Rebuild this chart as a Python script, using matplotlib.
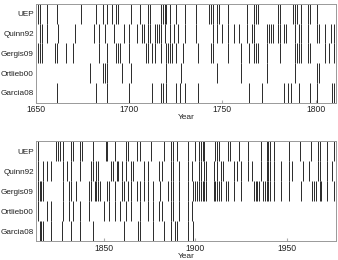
import matplotlib
matplotlib.use("Agg")
import matplotlib.pyplot as plt

plt.rcParams['font.family'] = ['Liberation Sans', 'DejaVu Sans']

series_names = ["UEP", "Quinn92", "Gergis09", "Ortlieb00", "Garcia08"]

# Top panel (1650-1811)
uep_a = [1651, 1652, 1656, 1661, 1674, 1682, 1686, 1688, 1691, 1693, 1694, 1701, 1706, 1710,
         1711, 1717, 1718, 1719, 1720, 1722, 1725, 1730, 1736, 1743, 1744, 1745, 1747, 1748,
         1753, 1763, 1767, 1768, 1769, 1780, 1781, 1788, 1789, 1790, 1792, 1796, 1797, 1801]
quinn_a = [1652, 1653, 1656, 1662, 1671, 1681, 1684, 1687, 1692, 1697, 1700, 1704, 1707, 1708,
           1710, 1711, 1714, 1715, 1716, 1717, 1719, 1722, 1724, 1726, 1730, 1736, 1745, 1747,
           1750, 1753, 1756, 1759, 1763, 1766, 1767, 1774, 1775, 1776, 1777, 1780, 1781, 1783,
           1784, 1789, 1791, 1792, 1796, 1801, 1802, 1805, 1808, 1810]
gergis_a = [1651, 1652, 1653, 1660, 1661, 1666, 1670, 1684, 1688, 1693, 1694, 1695, 1700, 1709,
            1710, 1712, 1714, 1717, 1720, 1721, 1722, 1723, 1725, 1729, 1737, 1744, 1745, 1753,
            1760, 1764, 1767, 1768, 1769, 1774, 1781, 1789, 1790, 1791, 1792, 1796, 1797, 1805,
            1807, 1810]
ortlieb_a = [1679, 1686, 1687, 1688, 1696, 1701, 1720, 1728, 1747, 1760, 1774, 1789, 1801, 1802]
garcia_a = [1661, 1682, 1688, 1700, 1712, 1717, 1718, 1720, 1725, 1727, 1730, 1737, 1764, 1771,
            1783, 1785, 1787, 1791, 1797, 1801, 1809, 1810]

# Bottom panel (1813-1977)
uep_b = [1814, 1824, 1825, 1826, 1828, 1832, 1833, 1837, 1838, 1844, 1851, 1852, 1856, 1862,
         1863, 1868, 1870, 1876, 1883, 1887, 1888, 1890, 1896, 1900, 1902, 1903, 1904, 1905,
         1911, 1912, 1913, 1918, 1919, 1924, 1929, 1936, 1939, 1940, 1941, 1943, 1951, 1957,
         1963, 1967, 1968, 1972, 1976]
quinn_b = [1814, 1817, 1819, 1821, 1828, 1830, 1832, 1837, 1843, 1844, 1846, 1847, 1854, 1855,
           1857, 1858, 1860, 1862, 1865, 1866, 1872, 1874, 1880, 1882, 1887, 1888, 1891, 1896,
           1898, 1902, 1903, 1905, 1906, 1910, 1912, 1914, 1915, 1921, 1923, 1925, 1929, 1931,
           1936, 1939, 1940, 1941, 1943, 1947, 1951, 1953, 1959, 1962, 1967, 1968, 1972, 1975]
gergis_b = [1814, 1815, 1816, 1817, 1828, 1831, 1832, 1835, 1842, 1843, 1845, 1846, 1847, 1848,
            1852, 1853, 1856, 1860, 1861, 1863, 1865, 1868, 1870, 1872, 1874, 1877, 1881, 1885,
            1887, 1888, 1891, 1896, 1899, 1900, 1901, 1902, 1903, 1904, 1905, 1906, 1910, 1911,
            1912, 1913, 1914, 1917, 1918, 1921, 1925, 1932, 1933, 1934, 1935, 1937, 1938, 1939,
            1940, 1941, 1943, 1947, 1951, 1958, 1964, 1965, 1966, 1968, 1969, 1972, 1976]
ortlieb_b = [1814, 1819, 1821, 1828, 1831, 1833, 1837, 1842, 1850, 1853, 1856, 1859, 1862, 1865,
             1870, 1874, 1877, 1880, 1882, 1887, 1888, 1891, 1896, 1898]
garcia_b = [1815, 1816, 1817, 1821, 1827, 1832, 1837, 1844, 1861, 1869, 1870, 1877, 1883, 1887,
            1889, 1890, 1896, 1899]

top_ticks = [1650, 1700, 1750, 1800]
bottom_ticks = [1850, 1900, 1950]

fig = plt.figure(figsize=(3.38, 2.60), dpi=100)
ax1 = fig.add_axes([0.1065, 0.605, 0.888, 0.380])
ax2 = fig.add_axes([0.1065, 0.072, 0.888, 0.385])

def draw(ax, rows, xlim, ticks):
    for i, yrs in enumerate(rows):
        ax.vlines(yrs, i - 0.5, i + 0.5, color='#1a1a1a', linewidth=0.65)
    ax.set_xlim(*xlim)
    ax.set_ylim(4.5, -0.5)
    ax.set_yticks(range(len(series_names)))
    ax.set_yticklabels(series_names, fontsize=5.9)
    ax.set_xticks(ticks)
    ax.tick_params(axis='x', labelsize=6.2, pad=2)
    ax.tick_params(axis='both', colors='#222222')
    ax.tick_params(axis='y', length=0, pad=1.5)
    ax.tick_params(axis='x', direction='in', length=2, color='#aaaaaa')
    for s in ax.spines.values():
        s.set_color('#999999')
        s.set_linewidth(0.7)
    ax.set_xlabel('Year', fontsize=6.0, labelpad=0, color='#222222')

draw(ax1, [uep_a, quinn_a, gergis_a, ortlieb_a, garcia_a], (1650, 1811), top_ticks)
draw(ax2, [uep_b, quinn_b, gergis_b, ortlieb_b, garcia_b], (1813, 1977), bottom_ticks)

fig.savefig('out.png', dpi=100)
